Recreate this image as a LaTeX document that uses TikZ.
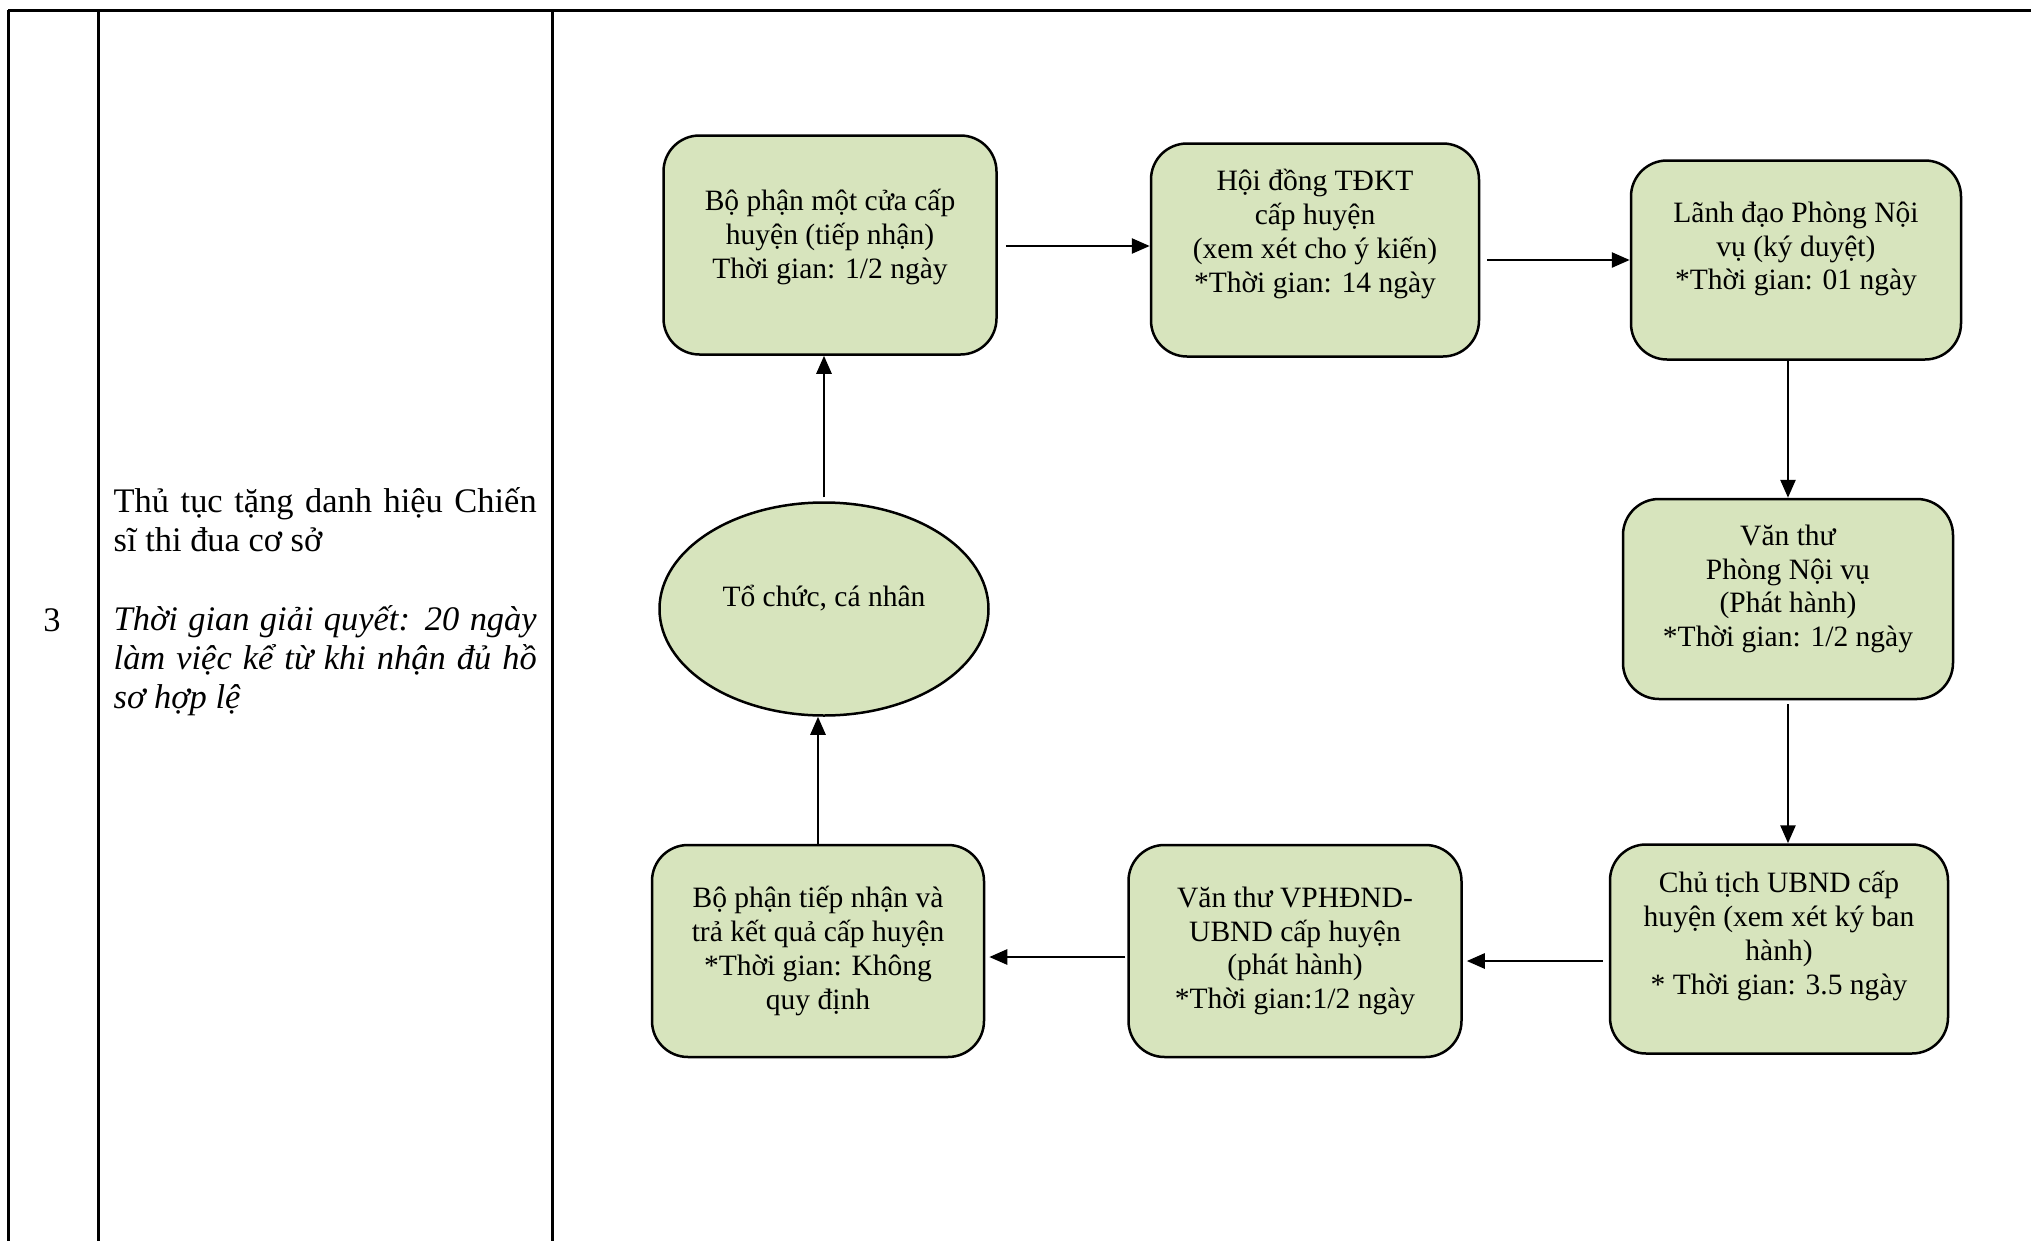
\documentclass[tikz,border=0pt]{standalone}
\usepackage{fontspec}
\setmainfont{Liberation Serif}
\usetikzlibrary{shapes.geometric,arrows.meta}
\definecolor{fl_green}{RGB}{215,228,189}
\tikzstyle{box}=[rectangle,rounded corners=0.36cm,fill=fl_green,draw=black,
  line width=0.025cm,inner sep=0pt]
\tikzstyle{oval}=[ellipse,fill=fl_green,draw=black,
  line width=0.025cm,inner sep=0pt]
\tikzstyle{txt}=[align=center,inner sep=0pt,font=\fontsize{8.4}{9.6}\selectfont]
\tikzstyle{cell}=[inner sep=0pt,font=\fontsize{9.8}{11.2}\selectfont]
\tikzstyle{arr}=[-{Triangle[length=0.18cm,width=0.15cm]},line width=0.026cm]
\tikzstyle{grid}=[line width=0.03cm]

\begin{document}
\begin{tikzpicture}
    \useasboundingbox (0,0) rectangle (20.31,-12.41);
    % table
    \draw [style=grid] (0.08,-0.10) -- (20.31,-0.10);
    \draw [style=grid] (0.08,-0.10) -- (0.08,-12.41);
    \draw [style=grid] (0.98,-0.10) -- (0.98,-12.41);
    \draw [style=grid] (5.52,-0.10) -- (5.52,-12.41);
    \node [style=cell,anchor=base] (num) at (0.52,-6.31) {3};
    \node [style=cell,anchor=base west] (proc) at (1.13,-5.12) {\parbox[t]{4.23cm}{%
      \makebox[\linewidth][s]{Thủ tục tặng danh hiệu Chiến}\\
      sĩ thi đua cơ sở\\[11.2pt]
      \itshape\makebox[\linewidth][s]{Thời gian giải quyết: 20 ngày}\\
      \makebox[\linewidth][s]{làm việc kể từ khi nhận đủ hồ}\\
      sơ hợp lệ}};
    % flow
    \node [style=box,minimum width=3.33cm,minimum height=2.19cm] (b1) at (8.30,-2.45) {};
    \node [style=box,minimum width=3.28cm,minimum height=2.13cm] (b2) at (13.15,-2.50) {};
    \node [style=box,minimum width=3.30cm,minimum height=1.99cm] (b3) at (17.96,-2.60) {};
    \node [style=box,minimum width=3.30cm,minimum height=2.00cm] (b4) at (17.88,-5.99) {};
    \node [style=box,minimum width=3.38cm,minimum height=2.09cm] (b5) at (17.79,-9.49) {};
    \node [style=box,minimum width=3.33cm,minimum height=2.12cm] (b6) at (12.95,-9.51) {};
    \node [style=box,minimum width=3.32cm,minimum height=2.12cm] (b7) at (8.18,-9.51) {};
    \node [style=oval,minimum width=3.29cm,minimum height=2.13cm] (ell) at (8.24,-6.09) {};
    \node [style=txt] (t1) at (8.30,-2.37) {Bộ phận một cửa cấp\\huyện (tiếp nhận)\\Thời gian: 1/2 ngày};
    \node [style=txt] (t2) at (13.15,-2.34) {Hội đồng TĐKT\\cấp huyện\\(xem xét cho ý kiến)\\*Thời gian: 14 ngày};
    \node [style=txt] (t3) at (17.96,-2.49) {Lãnh đạo Phòng Nội\\vụ (ký duyệt)\\*Thời gian: 01 ngày};
    \node [style=txt] (t4) at (17.88,-5.89) {Văn thư\\Phòng Nội vụ\\(Phát hành)\\*Thời gian: 1/2 ngày};
    \node [style=txt] (t5) at (17.79,-9.36) {Chủ tịch UBND cấp\\huyện (xem xét ký ban\\hành)\\* Thời gian: 3.5 ngày};
    \node [style=txt] (t6) at (12.95,-9.51) {Văn thư VPHĐND-\\UBND cấp huyện\\(phát hành)\\*Thời gian:1/2 ngày};
    \node [style=txt] (t7) at (8.18,-9.51) {Bộ phận tiếp nhận và\\trả kết quả cấp huyện\\*Thời gian: Không\\quy định};
    \node [style=txt] (te) at (8.24,-5.98) {Tổ chức, cá nhân};
    \draw [style=arr,shorten <=0.08cm] ([yshift=-0.01cm]b1.east) to ([yshift=-0.01cm]b1.east -| b2.west);
    \draw [style=arr,shorten <=0.07cm] (b2.east |- b3.west) to (b3.west);
    \draw [style=arr] (b3.south -| b4.north) to (b4.north);
    \draw [style=arr,shorten <=0.04cm] (b4.south) to (b4.south |- b5.north);
    \draw [style=arr,shorten <=0.06cm,shorten >=0.04cm] ([yshift=-0.12cm]b5.west) to ([yshift=-0.12cm]b5.west -| b6.east);
    \draw [style=arr,shorten <=0.02cm,shorten >=0.04cm] ([yshift=-0.06cm]b6.west) to ([yshift=-0.06cm]b6.west -| b7.east);
    \draw [style=arr] (b7.north) to (b7.north |- ell.south);
    \draw [style=arr,shorten <=0.04cm] (ell.north) to (ell.north |- b1.south);
\end{tikzpicture}
\end{document}
